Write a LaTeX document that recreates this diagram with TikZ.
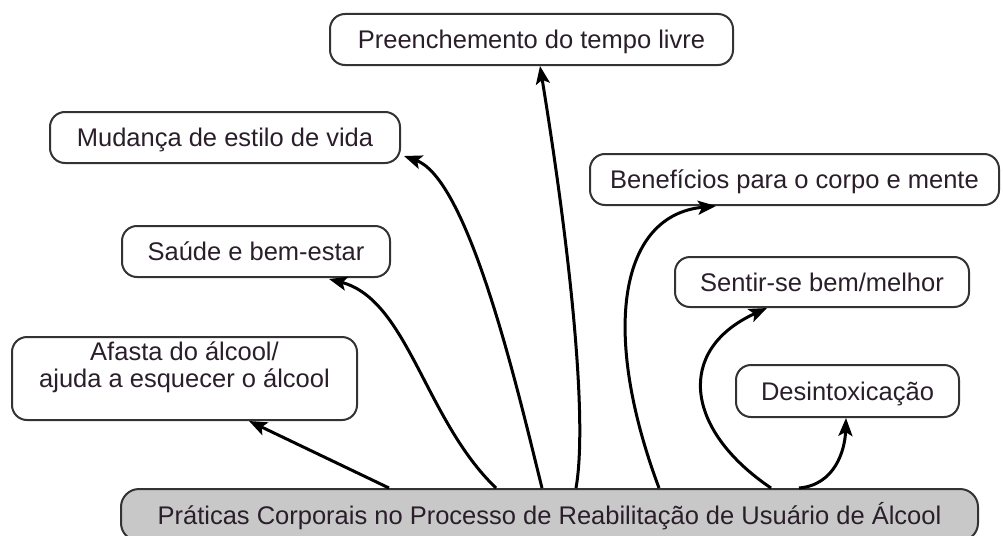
\documentclass[tikz,border=0pt]{standalone}
\usepackage{fontspec}
\setmainfont{Liberation Sans}
\usetikzlibrary{arrows.meta}
\definecolor{boxline}{HTML}{333333}
\definecolor{basefill}{HTML}{C8C8C8}
\definecolor{txt}{HTML}{2A1E2A}
\begin{document}
\begin{tikzpicture}[x=1pt,y=-1pt,
  box/.style={draw=boxline, line width=2pt, rounded corners=15pt, fill=white, inner sep=0pt,
    font=\fontsize{25.5}{27}\selectfont, text=txt, text height=18pt, text depth=0pt, align=center},
  link/.style={line width=3pt, -{Stealth[length=18pt,width=14pt,inset=4pt]}}]
\useasboundingbox (0,0) rectangle (1003,535);
\node[box, minimum width=403pt, minimum height=51pt] (pre) at (531.5,39.5) {Preenchemento do tempo livre};
\node[box, minimum width=350pt, minimum height=51pt] (mud) at (225,137.5) {Mudança de estilo de vida};
\node[box, minimum width=268pt, minimum height=51pt] (sau) at (256,251.5) {Saúde e bem-estar};
\node[box, minimum width=345pt, minimum height=83pt] (afa) at (184.5,378.5) {Afasta do álcool/\\ajuda a esquecer o álcool};
\node[box, minimum width=409pt, minimum height=51pt] (ben) at (794.5,179.5) {Benefícios para o corpo e mente};
\node[box, minimum width=294pt, minimum height=50pt] (sen) at (822,282) {Sentir-se bem/melhor};
\node[box, minimum width=223pt, minimum height=52pt] (des) at (847.5,391) {Desintoxicação};
\node[box, fill=basefill, rounded corners=18pt, minimum width=857pt, minimum height=52pt] (base) at (549.5,515) {Práticas Corporais no Processo de Reabilitação de Usuário de Álcool};
\draw[link] ([xshift=269pt]base.north west) -- ([xshift=238pt]afa.south west);
\draw[link] ([xshift=376pt]base.north west) .. controls (425,420) and (408,300) .. ([xshift=-62pt,yshift=-1pt]sau.south east);
\draw[link] ([xshift=422pt]base.north west) .. controls (520,400) and (470,180) .. ([xshift=3pt,yshift=8pt]mud.south east);
\draw[link] ([xshift=456pt]base.north west) .. controls (588,420) and (570,250) .. ([xshift=8.5pt]pre.south);
\draw[link] ([xshift=539pt]base.north west) .. controls (600,330) and (620,215) .. ([xshift=127pt]ben.south west);
\draw[link] ([xshift=651pt]base.north west) .. controls (685,430) and (675,350) .. ([xshift=93pt]sen.south west);
\draw[link] ([xshift=679pt]base.north west) .. controls (835,485) and (845,450) .. ([xshift=111pt]des.south west);
\end{tikzpicture}
\end{document}
